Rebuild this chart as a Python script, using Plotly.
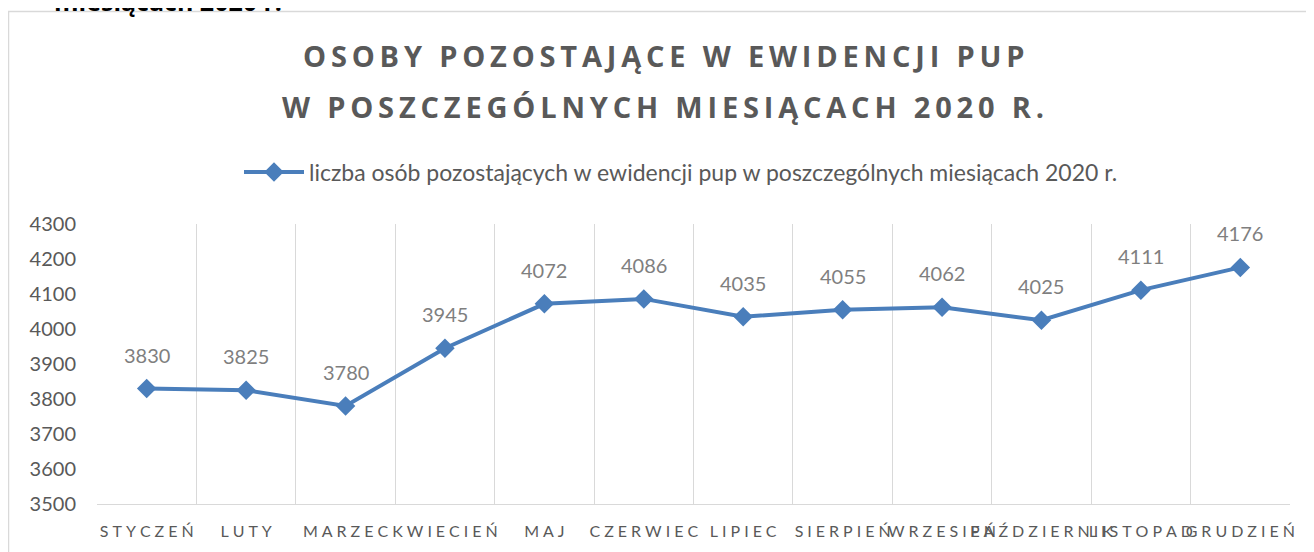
import plotly.graph_objects as go

months = ["STYCZEŃ", "LUTY", "MARZEC", "KWIECIEŃ", "MAJ", "CZERWIEC", "LIPIEC",
          "SIERPIEŃ", "WRZESIEŃ", "PAŹDZIERNIK", "LISTOPAD", "GRUDZIEŃ"]
values = [3830, 3825, 3780, 3945, 4072, 4086, 4035, 4055, 4062, 4025, 4111, 4176]
series_name = "liczba osób pozostających w ewidencji pup w poszczególnych miesiącach 2020 r."
title_lines = ["OSOBY POZOSTAJĄCE W EWIDENCJI PUP", "W POSZCZEGÓLNYCH MIESIĄCACH 2020 R."]
heading = "miesiącach 2020 r."
y_ticks = [3500, 3600, 3700, 3800, 3900, 4000, 4100, 4200, 4300]

THIN = "\u2009"
HAIR = "\u200a"


def spaced(s, sep=THIN):
    return sep.join(list(s))


# page has an 8px body margin: figure origin sits at screen (8, 8)
OFF = 8
W, H = 1314, 552
# plot area in screen pixels: x 97..1290, y 224..504
SX0, SX1, SY0, SY1 = 97, 1290, 224, 504
L = SX0 - OFF
R = W - (SX1 - OFF)
T = SY0 - OFF
B = H - (SY1 - OFF)
PH = SY1 - SY0
PW = SX1 - SX0


def py(p):  # screen y -> paper
    return (SY1 - p) / PH


def px(p):  # screen x -> paper
    return (p - SX0) / PW


BLUE = "#4a7ebb"
GRAY = "#595959"

fig = go.Figure()
fig.add_trace(go.Scatter(
    x=months, y=values, mode="lines+markers", name=series_name,
    line=dict(color=BLUE, width=4),
    marker=dict(symbol="diamond", size=15, color=BLUE),
))

annotations = []
for m, v in zip(months, values):
    annotations.append(dict(x=m, y=v, xref="x", yref="y", text=str(v), showarrow=False,
                            yshift=34, font=dict(family="Lato", size=20, color="#7f7f7f")))

annotations.append(dict(x=px(663), y=py(56), xref="paper", yref="paper", text=spaced(title_lines[0]),
                        showarrow=False, xanchor="center", yanchor="middle",
                        font=dict(family="Open Sans", size=29, color=GRAY, weight="bold")))
annotations.append(dict(x=px(663), y=py(107), xref="paper", yref="paper", text=spaced(title_lines[1]),
                        showarrow=False, xanchor="center", yanchor="middle",
                        font=dict(family="Open Sans", size=29, color=GRAY, weight="bold")))
annotations.append(dict(x=px(52), y=py(0.5), xref="paper", yref="paper", text=heading,
                        showarrow=False, xanchor="left", yanchor="middle",
                        font=dict(family="Open Sans", size=25, color="#000000", weight="bold")))

fig.update_layout(
    width=W, height=H,
    margin=dict(l=L, r=R, t=T, b=B, autoexpand=False),
    paper_bgcolor="white", plot_bgcolor="white",
    showlegend=True,
    legend=dict(orientation="h", x=px(681), y=py(172), xanchor="center", yanchor="middle",
                font=dict(family="Lato", size=23, color=GRAY), itemwidth=60),
    xaxis=dict(
        type="category", range=[-0.5, 11.5], automargin=False, tickangle=0,
        tickvals=months, ticktext=[spaced(m, HAIR * 4) for m in months],
        showgrid=True, gridcolor="#d9d9d9", gridwidth=1, tickson="boundaries",
        showline=True, linecolor="#d9d9d9", linewidth=1,
        ticks="", ticklabelstandoff=13,
        tickfont=dict(family="Lato", size=16, color=GRAY),
        zeroline=False, fixedrange=True,
    ),
    yaxis=dict(
        range=[3500, 4300], tickvals=y_ticks, showgrid=False, zeroline=False, automargin=False,
        showline=False, ticks="", ticklabelstandoff=20,
        tickfont=dict(family="Lato", size=20, color=GRAY), fixedrange=True,
    ),
    annotations=annotations,
    shapes=[dict(type="rect", xref="paper", yref="paper",
                 x0=px(8.5), x1=px(1400), y0=py(700), y1=py(11.5),
                 line=dict(color="#d9d9d9", width=1.5), layer="below")],
)

fig.write_html("out.html")
